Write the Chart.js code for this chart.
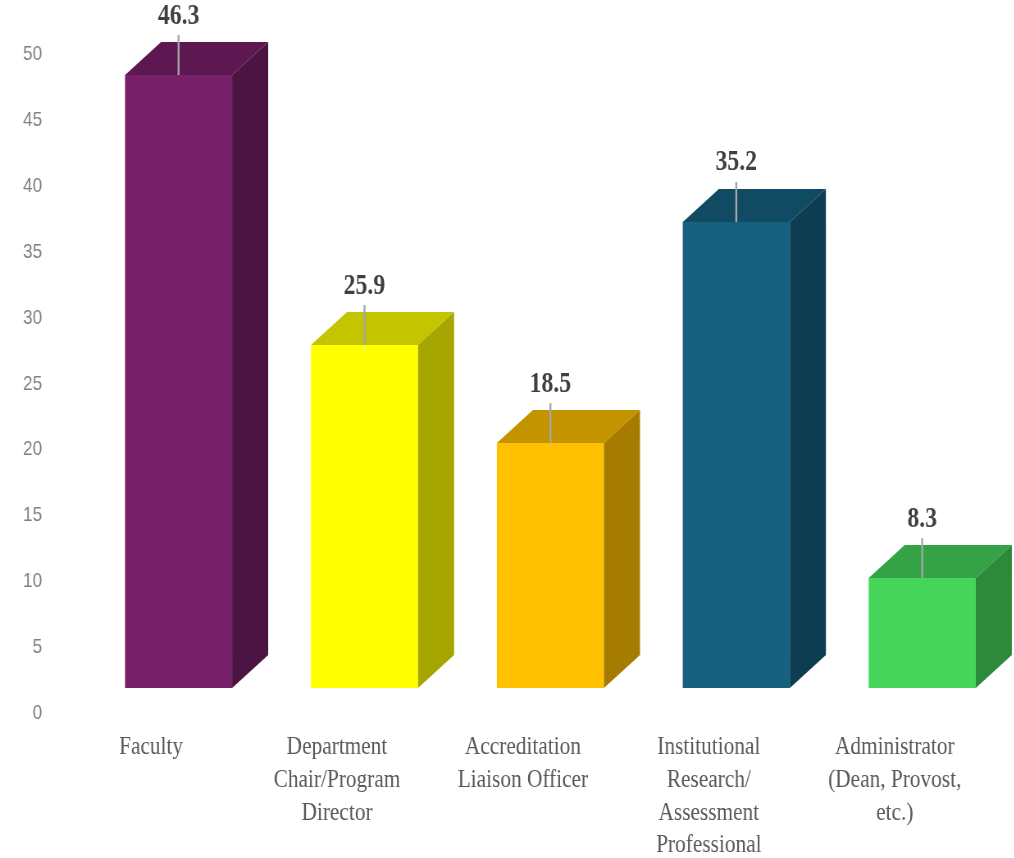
<!DOCTYPE html>
<html>
<head>
<meta charset="utf-8">
<script src="https://cdn.jsdelivr.net/npm/chart.js@4.4.0/dist/chart.umd.min.js"></script>
<style>
  html, body { margin: 0; padding: 0; background: #ffffff; overflow: hidden; }
  /* the drawing is laid out wide and narrowed horizontally, giving the condensed lettering */
  #wrap { width: 1238px; height: 858px; transform: scaleX(0.82); transform-origin: 0 0; }
  canvas { display: block; }
</style>
</head>
<body>
<div id="wrap"><canvas id="chart" width="1238" height="858" style="width:1238px;height:858px"></canvas></div>
<script>
// Respondent roles
const categories = [
  'Faculty',
  ['Department', 'Chair/Program', 'Director'],
  ['Accreditation', 'Liaison Officer'],
  ['Institutional', 'Research/', 'Assessment', 'Professional'],
  ['Administrator', '(Dean, Provost,', 'etc.)']
];

// Share of respondents (%)
const percentages = [46.3, 25.9, 18.5, 35.2, 8.3];

// Value axis tick labels
const yTickValues = [0, 5, 10, 15, 20, 25, 30, 35, 40, 45, 50];

// Face colours of each block: front, top, right side
const frontColors = ['#781F69', '#FFFF00', '#FFC000', '#176080', '#45D559'];
const topColors   = ['#5D1852', '#C4C400', '#C49300', '#114A63', '#35A345'];
const sideColors  = ['#4B1443', '#A6A600', '#A67C00', '#0E3D51', '#2C8A3A'];

const DEPTH_X = 44;   // horizontal depth of each block
const DEPTH_Y = 33;   // vertical depth of each block

// Draws the top and side faces, leader lines and value labels of the blocks
const blocks3d = {
  id: 'blocks3d',
  afterDatasetsDraw(chart) {
    const ctx = chart.ctx;
    const meta = chart.getDatasetMeta(0);
    meta.data.forEach((bar, i) => {
      const { x, y, base, width } = bar.getProps(['x', 'y', 'base', 'width'], true);
      const l = x - width / 2;
      const r = x + width / 2;
      ctx.save();
      // top face
      ctx.fillStyle = topColors[i];
      ctx.beginPath();
      ctx.moveTo(l, y);
      ctx.lineTo(r, y);
      ctx.lineTo(r + DEPTH_X, y - DEPTH_Y);
      ctx.lineTo(l + DEPTH_X, y - DEPTH_Y);
      ctx.closePath();
      ctx.fill();
      // right face
      ctx.fillStyle = sideColors[i];
      ctx.beginPath();
      ctx.moveTo(r, y);
      ctx.lineTo(r + DEPTH_X, y - DEPTH_Y);
      ctx.lineTo(r + DEPTH_X, base - DEPTH_Y);
      ctx.lineTo(r, base);
      ctx.closePath();
      ctx.fill();
      // leader line
      ctx.strokeStyle = '#A6A6A6';
      ctx.lineWidth = 2.4;
      ctx.beginPath();
      ctx.moveTo(x, y - 40);
      ctx.lineTo(x, y);
      ctx.stroke();
      // value label
      ctx.fillStyle = '#404040';
      ctx.font = 'bold 29px "Liberation Serif", "Times New Roman", serif';
      ctx.textAlign = 'center';
      ctx.textBaseline = 'middle';
      ctx.fillText(percentages[i].toFixed(1), x, y - 59);
      ctx.restore();
    });
  }
};

new Chart(document.getElementById('chart'), {
  type: 'bar',
  data: {
    labels: categories,
    datasets: [{
      data: percentages,
      backgroundColor: frontColors,
      borderWidth: 0,
      yAxisID: 'yBlocks',
      categoryPercentage: 0.576,
      barPercentage: 1
    }]
  },
  options: {
    responsive: false,
    animation: false,
    devicePixelRatio: 1,
    layout: { padding: { top: 54.5, left: 28, right: 0, bottom: 0 } },
    plugins: {
      legend: { display: false },
      tooltip: { enabled: false }
    },
    scales: {
      x: {
        grid: { display: false, drawTicks: false },
        border: { display: false },
        ticks: {
          color: '#595959',
          font: { family: '"Liberation Serif", "Times New Roman", serif', size: 26, lineHeight: 1.26 },
          labelOffset: -33.5,
          padding: 18,
          maxRotation: 0,
          autoSkip: false
        },
        afterFit(scale) { scale.height = 145; }
      },
      y: {
        min: 0,
        max: 50,
        grid: { display: false, drawTicks: false },
        border: { display: false },
        afterBuildTicks(scale) { scale.ticks = yTickValues.map(v => ({ value: v })); },
        ticks: {
          color: '#808080',
          font: { family: '"Liberation Sans", Arial, sans-serif', size: 21 },
          padding: 53
        },
        afterFit(scale) {
          scale.width = 76.4;
          // the wide label gap is horizontal only; keep it out of the vertical padding
          scale.paddingTop = 0;
          scale.paddingBottom = 0;
        }
      },
      // the block fronts stand forward of the back wall, so their floor sits higher
      yBlocks: {
        display: false,
        min: -1.888,
        max: 47.85
      }
    }
  },
  plugins: [blocks3d]
});
</script>
</body>
</html>
